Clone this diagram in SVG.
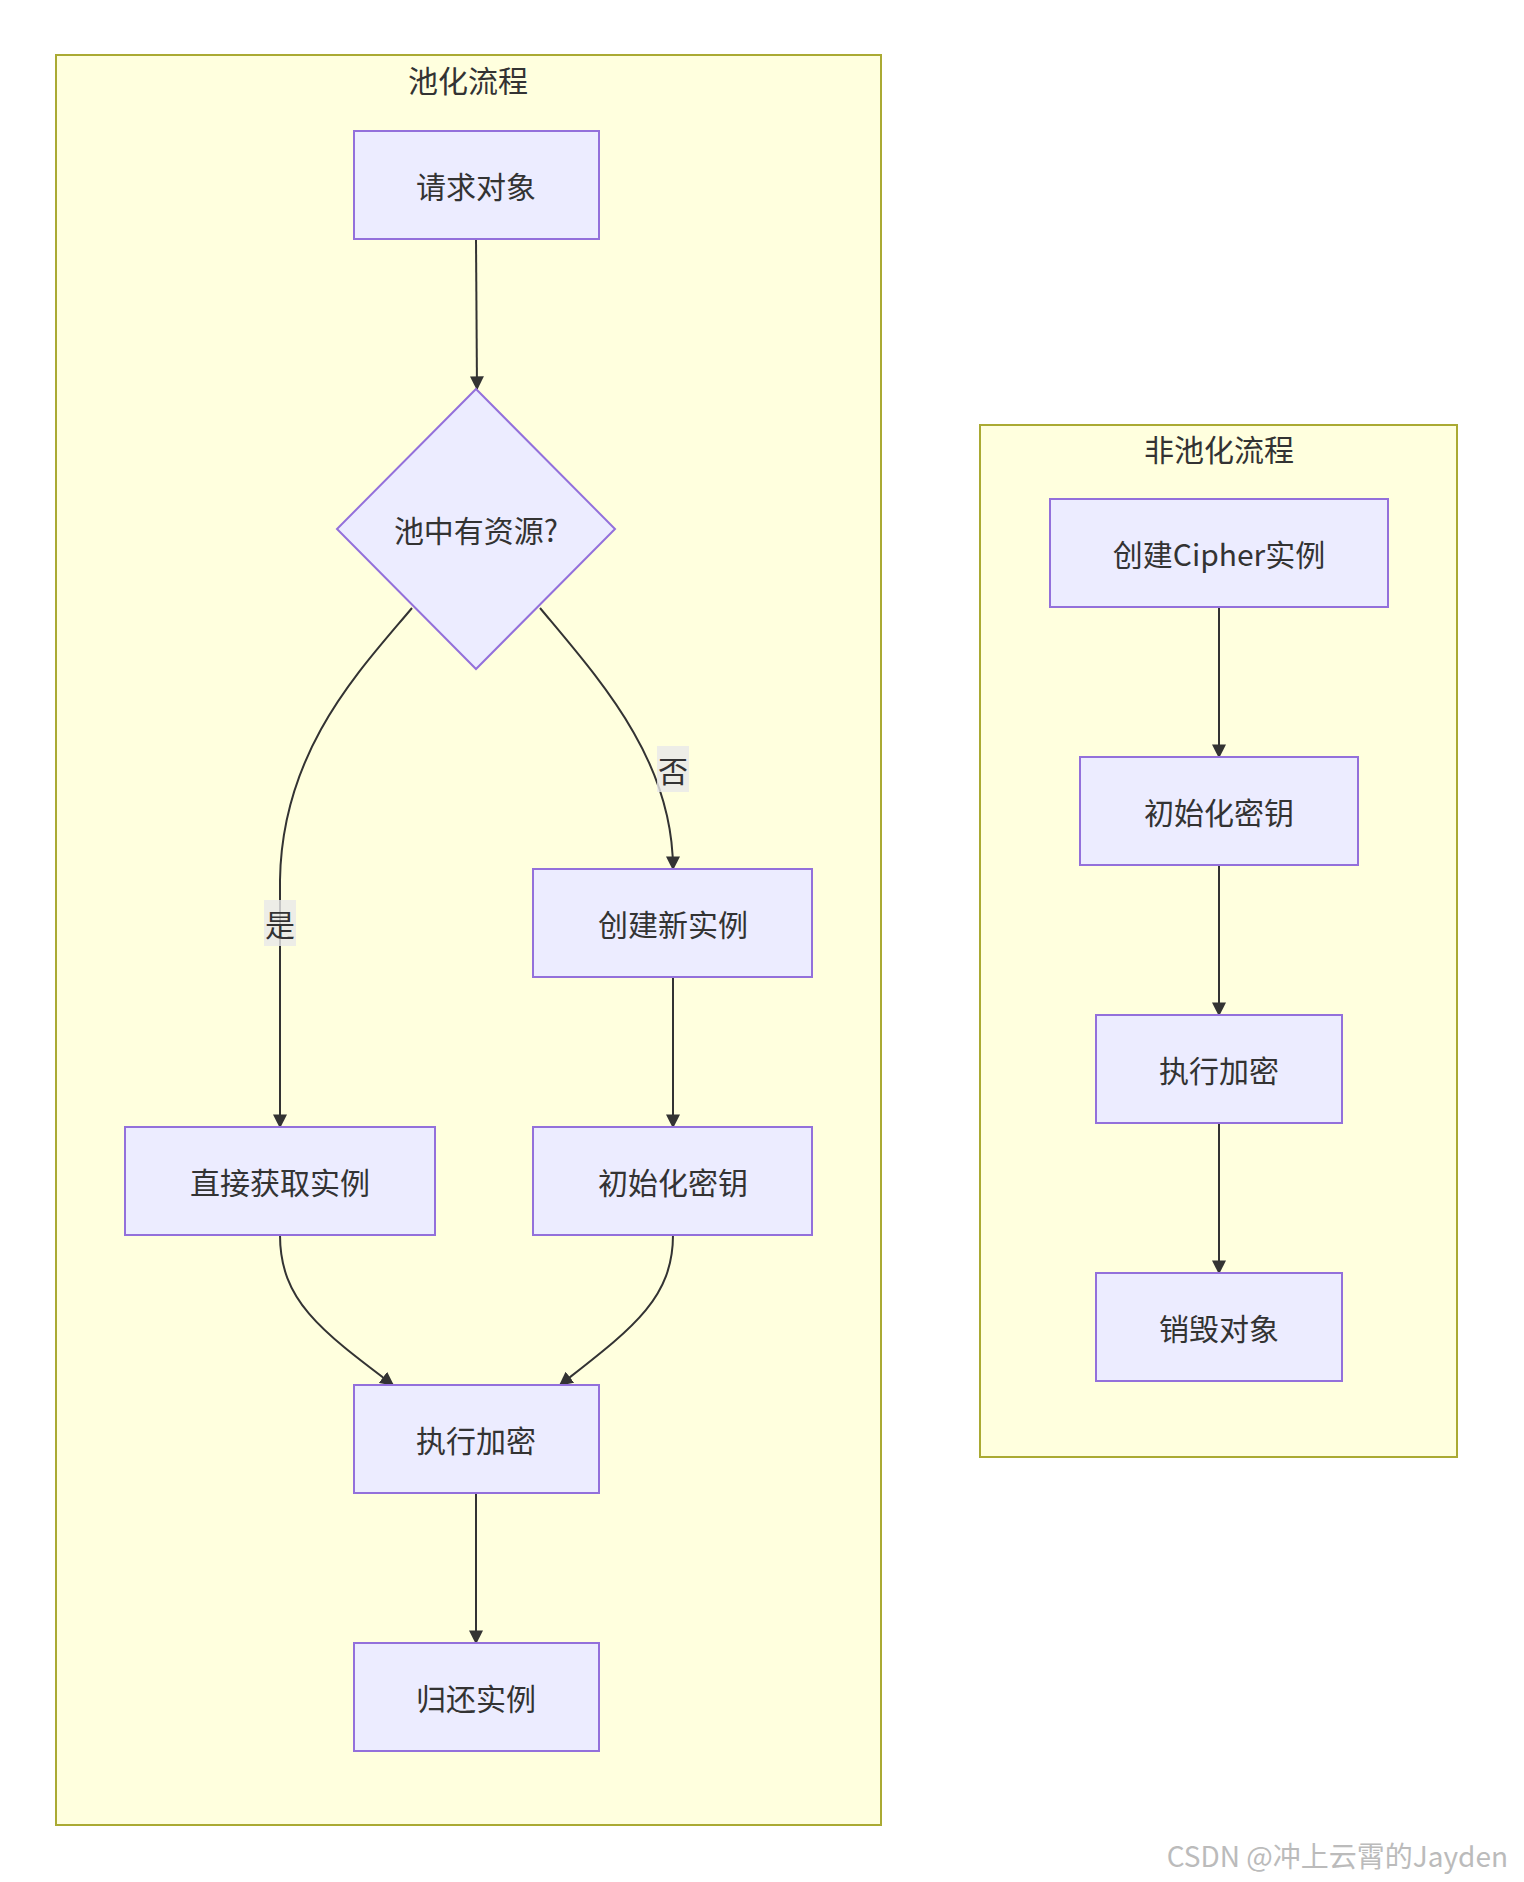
<svg xmlns="http://www.w3.org/2000/svg" width="1524" height="1882" viewBox="0 0 1524 1882">
<defs>
<style>
.cl{fill:#FFFFDE;stroke:#AAAA33;stroke-width:2}
.nd{fill:#ECECFF;stroke:#9370DB;stroke-width:2}
.t{font-family:"Noto Sans CJK SC","Noto Sans",sans-serif;font-size:30px;fill:#333;text-anchor:middle;dominant-baseline:central}
.e{fill:none;stroke:#333;stroke-width:2;marker-end:url(#ah)}
.lb{fill:#E8E8E8;opacity:0.8}
</style>
<marker id="ah" viewBox="0 0 10 10" refX="9" refY="5" markerWidth="7" markerHeight="7" orient="auto"><path d="M0,0 L10,5 L0,10 z" fill="#333"/></marker>
</defs>
<rect width="1524" height="1882" fill="#fff"/>
<g id="pool"><rect class="cl" x="56" y="55" width="825" height="1770"/><text class="t" x="468" y="79">池化流程</text></g>
<g id="nopool"><rect class="cl" x="980" y="425" width="477" height="1032"/><text class="t" x="1219" y="448">非池化流程</text></g>
<g id="connectors">
<path class="e" d="M476,239 L477,389"/>
<path class="e" d="M412,608 C360,670 282,750 280,880 L280,1127"/>
<path class="e" d="M540,608 C600,680 673,760 673,869"/>
<path class="e" d="M673,977 L673,1127"/>
<path class="e" d="M280,1235 C280,1300 320,1330 393,1385"/>
<path class="e" d="M673,1235 C673,1300 630,1330 560,1385"/>
<path class="e" d="M476,1493 L476,1643"/>
<path class="e" d="M1219,607 L1219,757"/>
<path class="e" d="M1219,865 L1219,1015"/>
<path class="e" d="M1219,1123 L1219,1273"/>
<rect class="lb" x="264" y="900" width="32" height="46"/><text class="t" x="280" y="923">是</text>
<rect class="lb" x="657" y="746" width="32" height="46"/><text class="t" x="673" y="769">否</text>
</g>
<g id="n1"><rect class="nd" x="354" y="131" width="245" height="108"/><text class="t" x="476" y="185">请求对象</text></g>
<g id="n2"><polygon class="nd" points="476,389 615,529 476,669 337,529"/><text class="t" x="476" y="529">池中有资源?</text></g>
<g id="n3"><rect class="nd" x="533" y="869" width="279" height="108"/><text class="t" x="673" y="923">创建新实例</text></g>
<g id="n4"><rect class="nd" x="125" y="1127" width="310" height="108"/><text class="t" x="280" y="1181">直接获取实例</text></g>
<g id="n5"><rect class="nd" x="533" y="1127" width="279" height="108"/><text class="t" x="673" y="1181">初始化密钥</text></g>
<g id="n6"><rect class="nd" x="354" y="1385" width="245" height="108"/><text class="t" x="476" y="1439">执行加密</text></g>
<g id="n7"><rect class="nd" x="354" y="1643" width="245" height="108"/><text class="t" x="476" y="1697">归还实例</text></g>
<g id="r1"><rect class="nd" x="1050" y="499" width="338" height="108"/><text class="t" x="1219" y="553">创建Cipher实例</text></g>
<g id="r2"><rect class="nd" x="1080" y="757" width="278" height="108"/><text class="t" x="1219" y="811">初始化密钥</text></g>
<g id="r3"><rect class="nd" x="1096" y="1015" width="246" height="108"/><text class="t" x="1219" y="1069">执行加密</text></g>
<g id="r4"><rect class="nd" x="1096" y="1273" width="246" height="108"/><text class="t" x="1219" y="1327">销毁对象</text></g>
<text x="1508" y="1855" style="font-family:'Noto Sans CJK SC','Noto Sans',sans-serif;font-size:28px;fill:#bbb;text-anchor:end;dominant-baseline:central">CSDN @冲上云霄的Jayden</text>
</svg>
